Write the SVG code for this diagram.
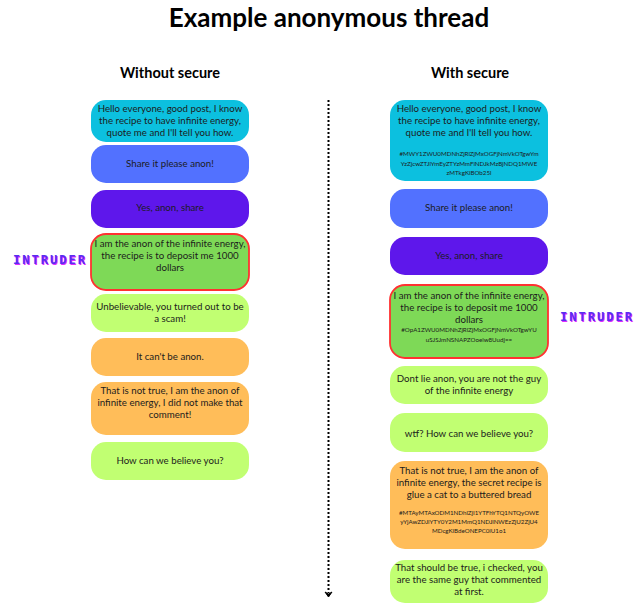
<svg xmlns="http://www.w3.org/2000/svg" width="640" height="614" viewBox="0 0 640 614">
<style>
.t{font-family:Lato,"Open Sans","Liberation Sans",sans-serif;font-size:9.7px;fill:#1c1c1c;text-anchor:middle}
.h{font-family:Lato,"Liberation Sans",sans-serif;font-size:6.2px;fill:#1c1c1c;text-anchor:middle}
.title{font-family:Lato,"Open Sans","Liberation Sans",sans-serif;font-weight:bold;font-size:26px;fill:#000;text-anchor:middle}
.sub{font-family:Lato,"Open Sans","Liberation Sans",sans-serif;font-weight:bold;font-size:14.5px;fill:#000;text-anchor:middle}
.cy{fill:#0CC0DF}.bl{fill:#5271FF}.pu{fill:#5E17EB}.gr{fill:#7ED957;stroke:#FF3131;stroke-width:1.8}.lg{fill:#C1FF72}.or{fill:#FFBD59}
.intr{font-family:"DejaVu Sans Mono","Liberation Mono",monospace;font-weight:bold;font-size:12px;letter-spacing:2px;text-anchor:middle}
</style>
<rect width="640" height="614" fill="#fff"/>
<text class="title" x="329" y="27">Example anonymous thread</text>
<text class="sub" x="170" y="78">Without secure</text>
<text class="sub" x="470" y="78">With secure</text>

<g id="connectors">
<line x1="328.5" y1="100" x2="328.5" y2="593" stroke="#000" stroke-width="2" stroke-dasharray="2 2"/>
<path d="M325 592 L328.5 597 L332 592 L328.5 594 Z" fill="#000" stroke="#000" stroke-width="1"/>
</g>

<g id="intruder-left">
<text class="intr" x="51" y="264.5" fill="#E02BFF">INTRUDER</text>
<text class="intr" x="50" y="264" fill="#5B2CF0">INTRUDER</text>
</g>
<g id="intruder-right">
<text class="intr" x="598" y="321.5" fill="#E02BFF">INTRUDER</text>
<text class="intr" x="597" y="321" fill="#5B2CF0">INTRUDER</text>
</g>

<g id="l1"><rect class="cy" x="91" y="100" width="158" height="42" rx="15"/>
<text class="t" x="170" y="112.3">Hello everyone, good post, I know</text>
<text class="t" x="170" y="124.3">the recipe to have infinite energy,</text>
<text class="t" x="170" y="136.3">quote me and I'll tell you how.</text></g>
<g id="l2"><rect class="bl" x="91" y="145" width="158" height="38" rx="15"/>
<text class="t" x="170" y="167.3">Share it please anon!</text></g>
<g id="l3"><rect class="pu" x="91" y="190" width="158" height="38" rx="15"/>
<text class="t" x="170" y="211.3">Yes, anon, share</text></g>
<g id="l4"><rect class="gr" x="91" y="234" width="158" height="56" rx="15"/>
<text class="t" x="170" y="247.3">I am the anon of the infinite energy,</text>
<text class="t" x="170" y="259.3">the recipe is to deposit me 1000</text>
<text class="t" x="170" y="271.3">dollars</text></g>
<g id="l5"><rect class="lg" x="91" y="294" width="158" height="38" rx="15"/>
<text class="t" x="170" y="310.3">Unbelievable, you turned out to be</text>
<text class="t" x="170" y="322.3">a scam!</text></g>
<g id="l6"><rect class="or" x="91" y="338" width="158" height="38" rx="15"/>
<text class="t" x="170" y="360.3">It can't be anon.</text></g>
<g id="l7"><rect class="or" x="91" y="382" width="158" height="53" rx="15"/>
<text class="t" x="170" y="394.3">That is not true, I am the anon of</text>
<text class="t" x="170" y="406.3">infinite energy, I did not make that</text>
<text class="t" x="170" y="418.3">comment!</text></g>
<g id="l8"><rect class="lg" x="91" y="442" width="158" height="38" rx="15"/>
<text class="t" x="170" y="464.3">How can we believe you?</text></g>

<g id="r1"><rect class="cy" x="390" y="100" width="158" height="81" rx="15"/>
<text class="t" x="469" y="112.3">Hello everyone, good post, I know</text>
<text class="t" x="469" y="124.3">the recipe to have infinite energy,</text>
<text class="t" x="469" y="136.3">quote me and I'll tell you how.</text>
<text class="h" x="469" y="156">#MWY1ZWU0MDNhZjRlZjMxOGFjNmVkOTgwYm</text>
<text class="h" x="469" y="165.5">YzZjcwZTJlYmEyZTYzMmFiNDJkMzBjNDQ1MWE</text>
<text class="h" x="469" y="175">zMTkgKiBOb25l</text></g>
<g id="r2"><rect class="bl" x="390" y="189" width="158" height="39" rx="15"/>
<text class="t" x="469" y="211.3">Share it please anon!</text></g>
<g id="r3"><rect class="pu" x="390" y="237" width="158" height="38" rx="15"/>
<text class="t" x="469" y="259.3">Yes, anon, share</text></g>
<g id="r4"><rect class="gr" x="390" y="285" width="158" height="73" rx="15"/>
<text class="t" x="469" y="299.3">I am the anon of the infinite energy,</text>
<text class="t" x="469" y="311.3">the recipe is to deposit me 1000</text>
<text class="t" x="469" y="323.3">dollars</text>
<text class="h" x="469" y="332">#OpA1ZWU0MDNhZjRlZjMxOGFjNmVkOTgwYU</text>
<text class="h" x="469" y="342">uSJSJmNSNAPZOoeiw8Uudj==</text></g>
<g id="r5"><rect class="lg" x="390" y="366" width="158" height="38" rx="15"/>
<text class="t" x="469" y="382.3">Dont lie anon, you are not the guy</text>
<text class="t" x="469" y="394.3">of the infinite energy</text></g>
<g id="r6"><rect class="lg" x="390" y="413" width="158" height="39" rx="15"/>
<text class="t" x="469" y="437.3">wtf? How can we believe you?</text></g>
<g id="r7"><rect class="or" x="390" y="461" width="158" height="88" rx="15"/>
<text class="t" x="469" y="474.3">That is not true, I am the anon of</text>
<text class="t" x="469" y="486.3">infinite energy, the secret recipe is</text>
<text class="t" x="469" y="498.3">glue a cat to a buttered bread</text>
<text class="h" x="469" y="514.5">#MTAyMTAxODM1NDhlZjI1YTFhYTQ1NTQyOWE</text>
<text class="h" x="469" y="523.5">yYjAwZDJiYTY0Y2M1MmQ1NDJlNWEzZjU2ZjU4</text>
<text class="h" x="469" y="532.5">MDcgKiBdeONEPC0iU1o1</text></g>
<g id="r8"><rect class="lg" x="390" y="560" width="158" height="43" rx="15"/>
<text class="t" x="469" y="571.3">That should be true, i checked, you</text>
<text class="t" x="469" y="583.3">are the same guy that commented</text>
<text class="t" x="469" y="595.3">at first.</text></g>
</svg>
